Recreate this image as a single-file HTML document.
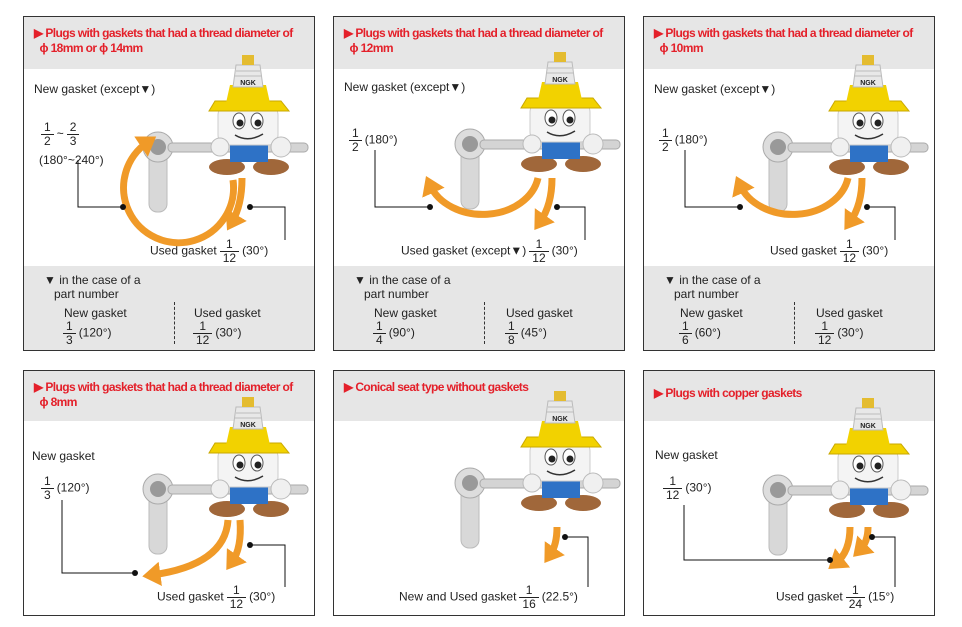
<!DOCTYPE html>
<html><head><meta charset="utf-8">
<style>
body{margin:0;width:962px;height:627px;background:#fff;position:relative;overflow:hidden;font-family:"Liberation Sans",sans-serif;color:#222}
.p{position:absolute;border:1px solid #333;background:#fff;box-sizing:border-box}
.hd{position:absolute;left:0;top:0;right:0;background:#e6e6e6}
.ft{position:absolute;left:0;bottom:0;right:0;background:#e6e6e6}
.ti{position:absolute;left:10px;top:9px;color:#e4202a;font-weight:bold;font-size:12px;letter-spacing:-0.6px;line-height:15px;font-family:"Liberation Sans Narrow","Liberation Sans",sans-serif}
.t{position:absolute;font-size:12px;white-space:nowrap;line-height:14px}
.fr{display:inline-block;vertical-align:middle;text-align:center;font-size:12px;line-height:13px;margin:0 3px}
.fr span{display:block;padding:0 3px}
.fr span:first-child{border-bottom:1px solid #222}
#ov{position:absolute;left:0;top:0}
</style></head><body>

<div class="p" style="left:23px;top:16px;width:292px;height:335px">
 <div class="hd" style="height:52px"></div><div class="ft" style="height:84px"></div>
 <div class="ti">▶ Plugs with gaskets that had a thread diameter of<br>&nbsp;&nbsp;ϕ 18mm or ϕ 14mm</div>
 <div class="t" style="left:10px;top:65px">New gasket (except▼)</div>
 <div class="t" style="left:14px;top:104px"><span class="fr"><span>1</span><span>2</span></span>~<span class="fr"><span>2</span><span>3</span></span></div>
 <div class="t" style="left:15px;top:136px">(180°~240°)</div>
 <div class="t" style="left:126px;top:221px">Used gasket<span class="fr"><span>1</span><span>12</span></span>(30°)</div>
 <div class="t" style="left:20px;top:256px">▼ in the case of a<br>&nbsp;&nbsp;&nbsp;part number</div>
 <div class="t" style="left:40px;top:289px">New gasket</div>
 <div class="t" style="left:36px;top:303px"><span class="fr"><span>1</span><span>3</span></span>(120°)</div>
 <div class="t" style="left:170px;top:289px">Used gasket</div>
 <div class="t" style="left:166px;top:303px"><span class="fr"><span>1</span><span>12</span></span>(30°)</div>
 <div style="position:absolute;left:150px;top:285px;height:42px;border-left:1px dashed #333"></div>
</div>

<div class="p" style="left:333px;top:16px;width:292px;height:335px">
 <div class="hd" style="height:52px"></div><div class="ft" style="height:84px"></div>
 <div class="ti">▶ Plugs with gaskets that had a thread diameter of<br>&nbsp;&nbsp;ϕ 12mm</div>
 <div class="t" style="left:10px;top:63px">New gasket (except▼)</div>
 <div class="t" style="left:12px;top:110px"><span class="fr"><span>1</span><span>2</span></span>(180°)</div>
 <div class="t" style="left:67px;top:221px">Used gasket (except▼)<span class="fr"><span>1</span><span>12</span></span>(30°)</div>
 <div class="t" style="left:20px;top:256px">▼ in the case of a<br>&nbsp;&nbsp;&nbsp;part number</div>
 <div class="t" style="left:40px;top:289px">New gasket</div>
 <div class="t" style="left:36px;top:303px"><span class="fr"><span>1</span><span>4</span></span>(90°)</div>
 <div class="t" style="left:172px;top:289px">Used gasket</div>
 <div class="t" style="left:168px;top:303px"><span class="fr"><span>1</span><span>8</span></span>(45°)</div>
 <div style="position:absolute;left:150px;top:285px;height:42px;border-left:1px dashed #333"></div>
</div>

<div class="p" style="left:643px;top:16px;width:292px;height:335px">
 <div class="hd" style="height:52px"></div><div class="ft" style="height:84px"></div>
 <div class="ti">▶ Plugs with gaskets that had a thread diameter of<br>&nbsp;&nbsp;ϕ 10mm</div>
 <div class="t" style="left:10px;top:65px">New gasket (except▼)</div>
 <div class="t" style="left:12px;top:110px"><span class="fr"><span>1</span><span>2</span></span>(180°)</div>
 <div class="t" style="left:126px;top:221px">Used gasket<span class="fr"><span>1</span><span>12</span></span>(30°)</div>
 <div class="t" style="left:20px;top:256px">▼ in the case of a<br>&nbsp;&nbsp;&nbsp;part number</div>
 <div class="t" style="left:36px;top:289px">New gasket</div>
 <div class="t" style="left:32px;top:303px"><span class="fr"><span>1</span><span>6</span></span>(60°)</div>
 <div class="t" style="left:172px;top:289px">Used gasket</div>
 <div class="t" style="left:168px;top:303px"><span class="fr"><span>1</span><span>12</span></span>(30°)</div>
 <div style="position:absolute;left:150px;top:285px;height:42px;border-left:1px dashed #333"></div>
</div>

<div class="p" style="left:23px;top:370px;width:292px;height:246px">
 <div class="hd" style="height:50px"></div>
 <div class="ti">▶ Plugs with gaskets that had a thread diameter of<br>&nbsp;&nbsp;ϕ 8mm</div>
 <div class="t" style="left:8px;top:78px">New gasket</div>
 <div class="t" style="left:14px;top:104px"><span class="fr"><span>1</span><span>3</span></span>(120°)</div>
 <div class="t" style="left:133px;top:213px">Used gasket<span class="fr"><span>1</span><span>12</span></span>(30°)</div>
</div>

<div class="p" style="left:333px;top:370px;width:292px;height:246px">
 <div class="hd" style="height:50px"></div>
 <div class="ti">▶ Conical seat type without gaskets</div>
 <div class="t" style="left:65px;top:213px">New and Used gasket<span class="fr"><span>1</span><span>16</span></span>(22.5°)</div>
</div>

<div class="p" style="left:643px;top:370px;width:292px;height:246px">
 <div class="hd" style="height:50px"></div>
 <div class="ti" style="top:15px">▶ Plugs with copper gaskets</div>
 <div class="t" style="left:11px;top:77px">New gasket</div>
 <div class="t" style="left:16px;top:104px"><span class="fr"><span>1</span><span>12</span></span>(30°)</div>
 <div class="t" style="left:132px;top:213px">Used gasket<span class="fr"><span>1</span><span>24</span></span>(15°)</div>
</div>

<svg id="ov" width="962" height="627" viewBox="0 0 962 627">
<defs>
<marker id="ah" markerWidth="3.5" markerHeight="3.5" refX="1.2" refY="1.75" orient="auto" markerUnits="strokeWidth"><path d="M0,0 L2.6,1.75 L0,3.5 z" fill="#f09a28"/></marker>
<g id="ch">
 <rect x="-24" y="95" width="18" height="62" rx="8" fill="#d8d8d8" stroke="#bbb"/>
 <circle cx="-15" cy="92" r="15" fill="#ddd" stroke="#aaa"/>
 <circle cx="-15" cy="92" r="8" fill="#999"/>
 <rect x="-5" y="88" width="140" height="9" rx="4" fill="#d4d4d4" stroke="#aaa"/>
 <ellipse cx="54" cy="112" rx="18" ry="8" fill="#a0673a"/>
 <ellipse cx="98" cy="112" rx="18" ry="8" fill="#a0673a"/>
 <rect x="57" y="82" width="38" height="25" fill="#2e72c6"/>
 <rect x="45" y="50" width="60" height="40" rx="10" fill="#f4f4f4" stroke="#ccc"/>
 <ellipse cx="66" cy="66" rx="6" ry="8" fill="#fff" stroke="#555"/><circle cx="67" cy="68" r="3.5" fill="#222"/>
 <ellipse cx="84" cy="66" rx="6" ry="8" fill="#fff" stroke="#555"/><circle cx="85" cy="68" r="3.5" fill="#222"/>
 <path d="M62 80 Q75 88 90 79" stroke="#333" stroke-width="1.5" fill="none"/>
 <circle cx="47" cy="92" r="9" fill="#f0f0f0" stroke="#bbb"/>
 <circle cx="108" cy="92" r="10" fill="#f0f0f0" stroke="#bbb"/>
 <path d="M42 46 L108 46 L116 56 L36 56 Z" fill="#f2d200" stroke="#c9a800"/>
 <path d="M57 30 L93 30 L97 48 L53 48 Z" fill="#f2d200"/>
 <path d="M63 10 L87 10 L90 32 L60 32 Z" fill="#e8e8e8" stroke="#bbb"/>
 <line x1="63" y1="16" x2="87" y2="16" stroke="#bbb"/><line x1="62" y1="21" x2="88" y2="21" stroke="#bbb"/>
 <rect x="69" y="0" width="12" height="10" fill="#e4bc30"/>
 <text x="75" y="30" font-size="7" font-weight="bold" text-anchor="middle" font-family="Liberation Sans,sans-serif" fill="#222">NGK</text>
</g>
</defs>
<use href="#ch" x="173" y="55"/>
<use href="#ch" x="485" y="52"/>
<use href="#ch" x="793" y="55"/>
<use href="#ch" x="173" y="397"/>
<use href="#ch" x="485" y="391"/>
<use href="#ch" x="793" y="398"/>
<g fill="none" stroke="#f09a28" stroke-width="7">
 <path d="M233 180 A55 55 0 1 1 148 142" marker-end="url(#ah)"/>
 <path d="M242 178 Q242 205 232 222" marker-end="url(#ah)"/>
 <path d="M538 178 A56 44 0 0 1 430 185" marker-end="url(#ah)"/>
 <path d="M552 178 Q552 205 540 222" marker-end="url(#ah)"/>
 <path d="M848 178 A56 44 0 0 1 740 185" marker-end="url(#ah)"/>
 <path d="M862 178 Q862 205 850 222" marker-end="url(#ah)"/>
 <path d="M228 520 Q225 565 152 575" marker-end="url(#ah)"/>
 <path d="M240 520 Q242 548 232 562" marker-end="url(#ah)"/>
 <path d="M557 527 Q557 545 550 555" marker-end="url(#ah)"/>
 <path d="M850 527 Q850 552 836 563" marker-end="url(#ah)"/>
 <path d="M868 527 Q868 542 860 550" marker-end="url(#ah)"/>
</g>
<g fill="none" stroke="#111" stroke-width="1">
 <path d="M78 160 V207 H123"/><path d="M250 207 H285 V240"/>
 <path d="M375 150 V207 H430"/><path d="M557 207 H585 V240"/>
 <path d="M685 150 V207 H740"/><path d="M867 207 H895 V240"/>
 <path d="M62 500 V573 H135"/><path d="M250 545 H285 V587"/>
 <path d="M565 537 H588 V587"/>
 <path d="M684 505 V560 H830"/><path d="M872 537 H895 V587"/>
</g>
<g fill="#111">
 <circle cx="123" cy="207" r="3"/><circle cx="250" cy="207" r="3"/>
 <circle cx="430" cy="207" r="3"/><circle cx="557" cy="207" r="3"/>
 <circle cx="740" cy="207" r="3"/><circle cx="867" cy="207" r="3"/>
 <circle cx="135" cy="573" r="3"/><circle cx="250" cy="545" r="3"/>
 <circle cx="565" cy="537" r="3"/>
 <circle cx="830" cy="560" r="3"/><circle cx="872" cy="537" r="3"/>
</g>
</svg>
</body></html>
